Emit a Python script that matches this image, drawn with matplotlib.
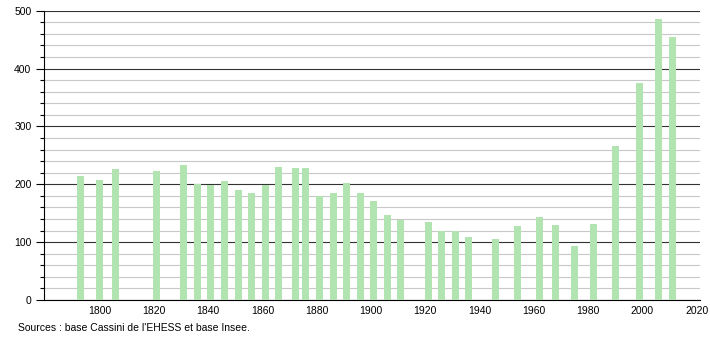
import numpy as np
import matplotlib.pyplot as plt
from matplotlib.ticker import MultipleLocator

plt.rcParams['font.family'] = ['Liberation Sans', 'DejaVu Sans']

years = [1793, 1800, 1806, 1821, 1831, 1836, 1841, 1846, 1851, 1856,
         1861, 1866, 1872, 1876, 1881, 1886, 1891, 1896, 1901, 1906,
         1911, 1921, 1926, 1931, 1936, 1946, 1954, 1962, 1968, 1975,
         1982, 1990, 1999, 2006, 2011]
population = [214, 207, 226, 223, 233, 200, 198, 206, 190, 185,
              198, 230, 229, 229, 179, 185, 202, 185, 171, 147,
              139, 135, 119, 119, 109, 105, 128, 143, 130, 93,
              132, 267, 375, 486, 454]
x_ticks = [1800, 1820, 1840, 1860, 1880, 1900, 1920, 1940, 1960, 1980, 2000, 2020]
source = "Sources : base Cassini de l'EHESS et base Insee."

fig = plt.figure(figsize=(7.1, 3.4), dpi=100)
ax = fig.add_axes([44 / 710, 1 - 300 / 340, 656 / 710, 289.3 / 340])

ax.bar(years, population, width=2.6, color='#b2e4b2', zorder=3)

ax.set_xlim(1779.5, 2021.2)
ax.set_ylim(0, 500)
ax.set_xticks(x_ticks)
ax.yaxis.set_major_locator(MultipleLocator(100))
ax.yaxis.set_minor_locator(MultipleLocator(20))
ax.grid(axis='y', which='major', color='#333333', linewidth=0.8, zorder=1)
ax.grid(axis='y', which='minor', color='#c8c8c8', linewidth=0.8, zorder=1)

for s in ['top', 'right']:
    ax.spines[s].set_visible(False)
ax.spines['left'].set_linewidth(0.8)
ax.spines['bottom'].set_linewidth(0.8)
ax.tick_params(axis='x', length=0, labelsize=7.5, pad=4)
ax.tick_params(axis='y', which='major', length=6, width=0.8, labelsize=7.5, pad=3)
ax.tick_params(axis='y', which='minor', length=3, width=0.8)

fig.text(18 / 710, 1 - 328 / 340, source, fontsize=7.5, va='center', ha='left')

fig.savefig('out.png', dpi=100)
